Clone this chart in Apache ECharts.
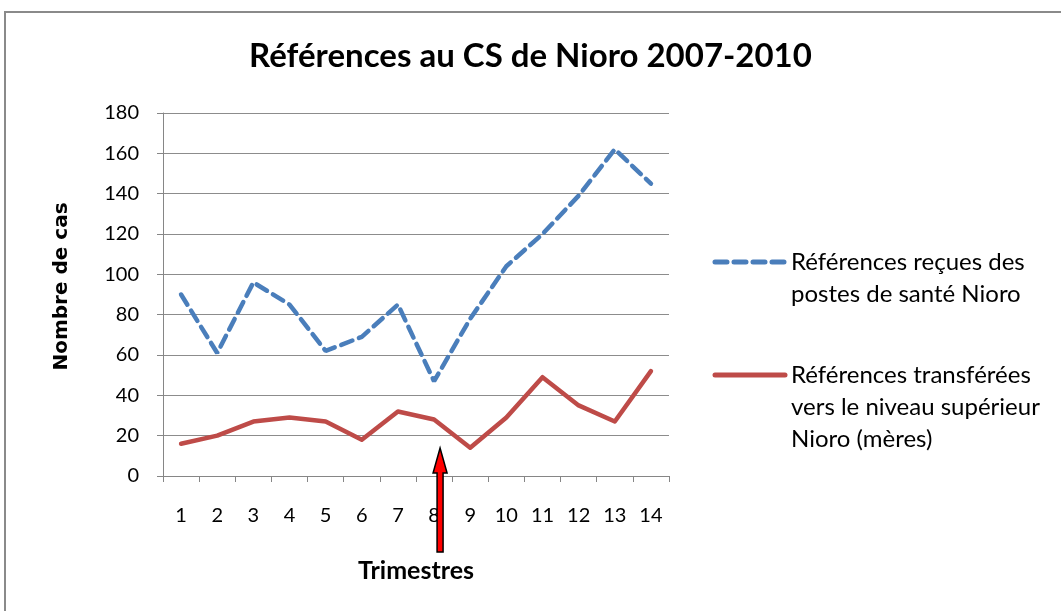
<!DOCTYPE html>
<html>
<head>
<meta charset="utf-8">
<title>Références au CS de Nioro 2007-2010</title>
<script src="https://cdn.jsdelivr.net/npm/echarts@6/dist/echarts.min.js"></script>
<style>
  html, body { margin: 0; padding: 0; background: #fff; }
  #chart { width: 1061px; height: 611px; }
</style>
</head>
<body>
<div id="chart"></div>
<script>
// trimestres 1..14
const trimestres = ['1', '2', '3', '4', '5', '6', '7', '8', '9', '10', '11', '12', '13', '14'];
const recues = [90, 61, 96, 85, 62, 69, 85, 47, 78, 104, 120, 139, 162, 145];
const transferees = [16, 20, 27, 29, 27, 18, 32, 28, 14, 29, 49, 35, 27, 52];
const nameRecues = 'Références reçues des\npostes de santé Nioro';
const nameTransf = 'Références transférées\nvers le niveau supérieur\nNioro (mères)';
const yTicks = { min: 0, max: 180, interval: 20 };

const FONT = 'Lato';
const BLUE = '#4a7ebb';
const RED = '#be4b48';
const chart = echarts.init(document.getElementById('chart'));

chart.setOption({
  animation: false,
  textStyle: { fontFamily: FONT },
  title: {
    text: 'Références au CS de Nioro 2007-2010',
    left: 'center',
    top: 35,
    textStyle: { fontFamily: FONT, fontSize: 33, fontWeight: 'bold', color: '#000' },
  },
  grid: { left: 163, right: 392, top: 113, bottom: 135 },
  xAxis: {
    type: 'category',
    data: trimestres,
    boundaryGap: true,
    name: 'Trimestres',
    nameLocation: 'middle',
    nameGap: 82,
    nameTextStyle: { fontFamily: FONT, fontSize: 25, fontWeight: 'bold', color: '#000' },
    axisLine: { lineStyle: { color: '#868686', width: 1 } },
    axisTick: { show: true, alignWithLabel: false, length: 6, lineStyle: { color: '#868686' } },
    axisLabel: { color: '#000', fontSize: 20, margin: 30, fontFamily: FONT },
  },
  yAxis: {
    type: 'value',
    min: yTicks.min,
    max: yTicks.max,
    interval: yTicks.interval,
    name: 'Nombre de cas',
    nameLocation: 'middle',
    nameGap: 91,
    nameRotate: 90,
    nameTextStyle: {
      fontFamily: 'DejaVu Sans',
      fontSize: 20,
      fontWeight: 'bold',
      color: '#000',
      padding: [0, 0, 0, 16],
    },
    axisLine: { show: true, lineStyle: { color: '#868686', width: 1 } },
    axisTick: { show: true, length: 6, lineStyle: { color: '#868686' } },
    axisLabel: { color: '#000', fontSize: 20, margin: 24, fontFamily: FONT },
    splitLine: { lineStyle: { color: '#8c8c8c', width: 1 } },
  },
  series: [
    {
      name: nameRecues,
      type: 'line',
      data: recues,
      symbol: 'none',
      lineStyle: { color: BLUE, width: 4.5, type: [12, 7], cap: 'round' },
      itemStyle: { color: BLUE },
    },
    {
      name: nameTransf,
      type: 'line',
      data: transferees,
      symbol: 'none',
      lineStyle: { color: RED, width: 4.5, cap: 'round', join: 'round' },
      itemStyle: { color: RED },
    },
  ],
});

// frame, legend, red arrow under trimestre 8
const p8 = chart.convertToPixel({ xAxisIndex: 0, yAxisIndex: 0 }, ['8', 0]);
const ax = p8[0] + 6;
const ay = p8[1];

function legendItem(y, name, color, dash) {
  return [
    {
      type: 'line',
      shape: { x1: 715, y1: y, x2: 785, y2: y },
      style: { stroke: color, lineWidth: 5, lineDash: dash, lineCap: 'round' },
      silent: true,
    },
    {
      type: 'text',
      x: 791,
      y: y - 16,
      style: {
        text: name,
        fontFamily: FONT,
        fontSize: 24,
        lineHeight: 32,
        fill: '#000',
        verticalAlign: 'top',
      },
      silent: true,
    },
  ];
}

chart.setOption({
  graphic: [
    {
      type: 'rect',
      shape: { x: 5, y: 12, width: 1100, height: 640 },
      style: { fill: 'none', stroke: '#8a8a8a', lineWidth: 2 },
      silent: true,
    },
    ...legendItem(262, nameRecues, BLUE, [12, 7]),
    ...legendItem(375, nameTransf, RED, null),
    {
      type: 'polygon',
      shape: {
        points: [
          [ax - 3, ay + 76],
          [ax + 3, ay + 76],
          [ax + 3, ay - 3],
          [ax + 7, ay - 3],
          [ax, ay - 28],
          [ax - 7, ay - 3],
          [ax - 3, ay - 3],
        ],
      },
      style: { fill: '#ff0000', stroke: '#000', lineWidth: 1.5 },
      z: 100,
    },
  ],
});
</script>
</body>
</html>
